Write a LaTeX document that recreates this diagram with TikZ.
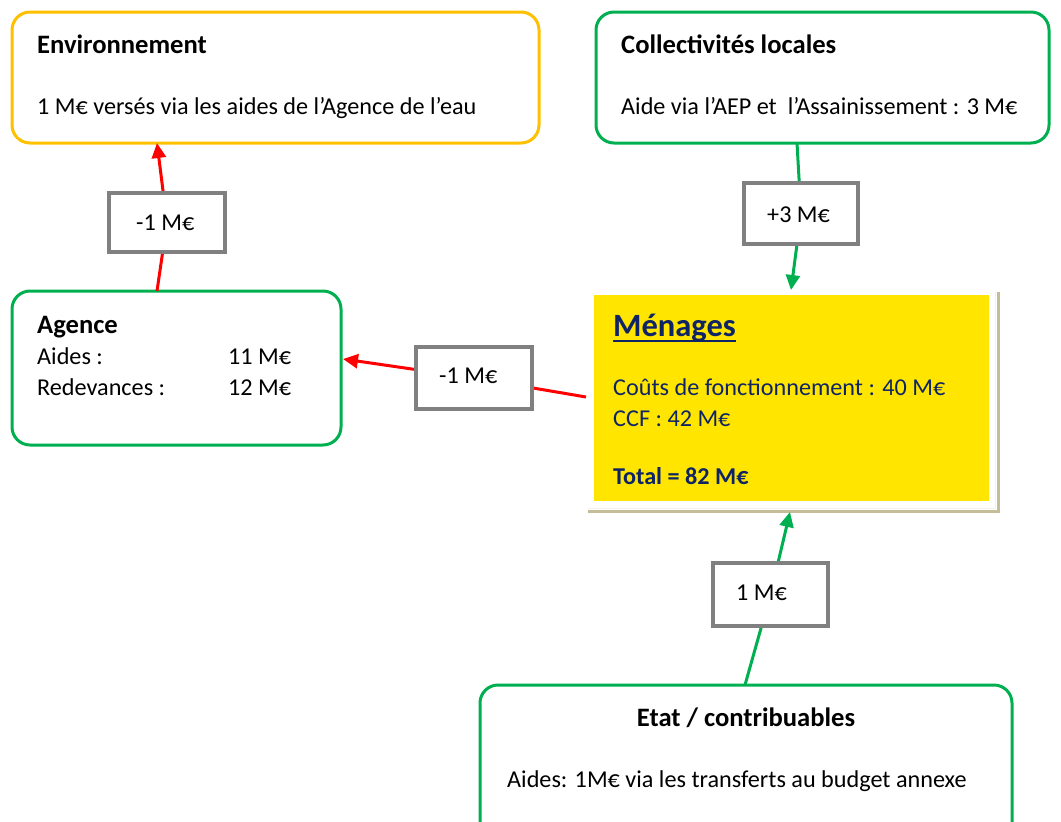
\documentclass[tikz,border=0pt]{standalone}
\usepackage{fontspec}
\setmainfont{Carlito}
\usetikzlibrary{arrows.meta}
\definecolor{orangeb}{HTML}{FFC000}
\definecolor{greenb}{HTML}{00B050}
\definecolor{redl}{HTML}{FF0000}
\definecolor{grayb}{HTML}{808080}
\definecolor{yellowb}{HTML}{FFE500}
\definecolor{navy}{HTML}{0F2466}
\definecolor{tan}{HTML}{C4BD97}
\tikzset{
  x=1pt, y=-1pt,
  every node/.style={font=\fontsize{24.2}{29}\selectfont, inner sep=0pt},
  roundbox/.style={draw, line width=3pt, rounded corners=18pt, fill=white},
  labbox/.style={draw=grayb, line width=3.5pt, fill=white},
  txt/.style={anchor=mid west},
  bold/.style={font=\fontsize{24.2}{29}\selectfont\bfseries},
  heading/.style={font=\fontsize{26.6}{32}\selectfont\bfseries},
  redarrow/.style={draw=redl, line width=3pt, -{Triangle[length=15pt,width=14pt]}},
  greenarrow/.style={draw=greenb, line width=3pt, -{Triangle[length=15pt,width=14pt]}},
}
\begin{document}
\begin{tikzpicture}
\useasboundingbox (0,0) rectangle (1061,822);
% boxes
\draw[roundbox, draw=orangeb] (12,12) rectangle (539,143);
\coordinate (envS) at (157,143);
\draw[roundbox, draw=greenb] (596,12) rectangle (1049,143);
\coordinate (colS) at (797,143);
\draw[roundbox, draw=greenb] (12,291) rectangle (341,445);
\coordinate (ageN) at (157,291);
\coordinate (ageE) at (343,359);
\draw[roundbox, draw=greenb] (480,685) rectangle (1012,840);
\coordinate (etaN) at (745,685);
% Menages
\draw[tan, line width=3pt] (588,511) -- (998,511) -- (998,292);
\draw[white!80!tan, line width=1pt] (588,508.5) -- (995.5,508.5) -- (995.5,292);
\fill[yellowb] (594,295) rectangle (989,501);
\coordinate (menN) at (791,290);
\coordinate (menW) at (586,397);
\coordinate (menS) at (790,512);
% label boxes
\node[labbox, minimum width=116pt, minimum height=59pt] (l1) at (167,222.5) {};
\node[labbox, minimum width=116pt, minimum height=62pt] (l2) at (474,378) {};
\node[labbox, minimum width=114pt, minimum height=61pt] (l3) at (801,213.5) {};
\node[labbox, minimum width=115pt, minimum height=63pt] (l4) at (770.5,594.5) {};
% connectors
\draw[redl, line width=3pt] (ageN) -- (l1);
\draw[redarrow] (l1) -- (envS);
\draw[redl, line width=3pt] (menW) -- (l2);
\draw[redarrow] (l2) -- (ageE);
\draw[greenb, line width=3pt] (colS) -- (l3);
\draw[greenarrow] (l3) -- (menN);
\draw[greenb, line width=3pt] (etaN) -- (l4);
\draw[greenarrow] (l4) -- (menS);
% redraw label boxes on top
\node[labbox, minimum width=116pt, minimum height=59pt] at (167,222.5) {};
\node[labbox, minimum width=116pt, minimum height=62pt] at (474,378) {};
\node[labbox, minimum width=114pt, minimum height=61pt] at (801,213.5) {};
\node[labbox, minimum width=115pt, minimum height=63pt] at (770.5,594.5) {};
% label texts
\node[txt] (t1) at (136,228) {-1 M€};
\node[txt] (t2) at (439,381) {-1 M€};
\node[txt] (t3) at (767,220) {+3 M€};
\node[txt] (t4) at (736,598) {1 M€};
% texts
\node[txt, heading] (a) at (37,51) {Environnement};
\node[txt] (b) at (37,112) {1 M€ versés via les aides de l’Agence de l’eau};
\node[txt, heading] (c) at (621,51) {Collectivités locales};
\node[txt] (d) at (621,112) {Aide via l’AEP et\ \ l’Assainissement : 3 M€};
\node[txt, heading] (e) at (37,331) {Agence};
\node[txt] (f1) at (37,362) {Aides :};
\node[txt] (f2) at (228,362) {11 M€};
\node[txt] (g1) at (37,393) {Redevances :};
\node[txt] (g2) at (228,393) {12 M€};
\node[txt, text=navy, font=\fontsize{32.5}{39}\selectfont\bfseries] (h) at (613,334) {Ménages};
\draw[navy, line width=2.5pt] ([yshift=-4.5pt]h.base west) -- ([yshift=-4.5pt]h.base east);
\node[txt, text=navy] (i) at (613,393) {Coûts de fonctionnement : 40 M€};
\node[txt, text=navy] (j) at (613,424) {CCF : 42 M€};
\node[txt, text=navy, bold] (k) at (613,482) {Total = 82 M€};
\node[anchor=mid, heading] (m) at (746,724) {Etat / contribuables};
\node[txt] (n) at (507,785) {Aides: 1M€ via les transferts au budget annexe};
\end{tikzpicture}
\end{document}
